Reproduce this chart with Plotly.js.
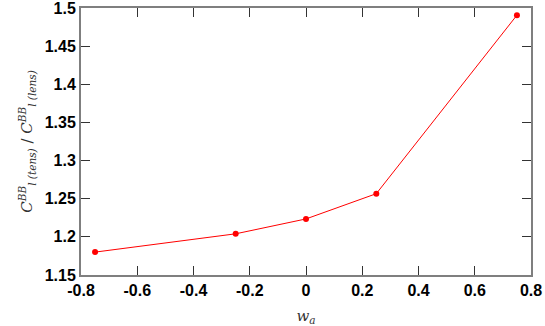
<!DOCTYPE html>
<html>
<head>
<meta charset="utf-8">
<script src="https://cdn.plot.ly/plotly-3.0.1.min.js"></script>
<style>
  html, body { margin: 0; padding: 0; background: #fff; }
  #chart { width: 545px; height: 326px; }
</style>
</head>
<body>
<div id="chart"></div>
<script>
// w_a values and ratio of BB spectra
const wa = [-0.75, -0.25, 0, 0.25, 0.75];
const ratio = [1.180, 1.204, 1.2235, 1.2566, 1.4906];

const xTicks = [-0.8, -0.6, -0.4, -0.2, 0, 0.2, 0.4, 0.6, 0.8];
const xTickText = ["-0.8", "-0.6", "-0.4", "-0.2", "0", "0.2", "0.4", "0.6", "0.8"];
const yTicks = [1.15, 1.2, 1.25, 1.3, 1.35, 1.4, 1.45, 1.5];
const yTickText = ["1.15", "1.2", "1.25", "1.3", "1.35", "1.4", "1.45", "1.5"];

const tickFont = { family: "Liberation Sans, Arial, sans-serif", size: 16, color: "#000", weight: "bold" };
const axisCommon = {
  showgrid: false,
  zeroline: false,
  showline: true,
  linecolor: "#7f7f7f",
  linewidth: 2,
  mirror: "allticks",
  ticks: "inside",
  ticklen: 9,
  tickwidth: 1,
  tickcolor: "#333",
  tickfont: tickFont,
  ticklabeloverflow: "allow"
};

Plotly.newPlot("chart", [{
  x: wa,
  y: ratio,
  type: "scatter",
  mode: "lines+markers",
  line: { color: "#ff0000", width: 1 },
  marker: { color: "#ff0000", size: 6 },
  showlegend: false
}], {
  width: 545,
  height: 326,
  margin: { l: 81, r: 14, t: 8, b: 51 },
  paper_bgcolor: "#fff",
  plot_bgcolor: "#fff",
  xaxis: Object.assign({}, axisCommon, {
    range: [-0.8, 0.8],
    tickvals: xTicks,
    ticktext: xTickText,
    title: { text: "<i>w<sub>a</sub></i>", font: { family: "DejaVu Serif, serif", size: 15, color: "#333" }, standoff: 12 }
  }),
  yaxis: Object.assign({}, axisCommon, {
    range: [1.15, 1.5],
    tickvals: yTicks,
    ticktext: yTickText,
    title: {
      text: "<i>C</i><sup><i>BB</i></sup><sub><i>l (tens)</i></sub> / <i>C</i><sup><i>BB</i></sup><sub><i>l (lens)</i></sub>",
      font: { family: "DejaVu Serif, serif", size: 15, color: "#333" },
      standoff: 8
    }
  })
}, { displayModeBar: false, staticPlot: true });
</script>
</body>
</html>
